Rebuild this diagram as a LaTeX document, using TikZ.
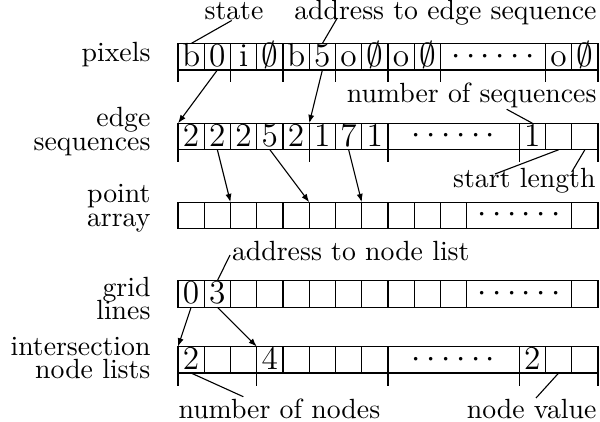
\documentclass[tikz,border=0pt]{standalone}
\usetikzlibrary{arrows.meta}
\newcommand\tightlabelfont{\fontsize{10}{8.6}\selectfont\lineskiplimit=-10pt\relax}
\begin{document}
\begin{tikzpicture}[x={(0.36pt,0pt)}, y={(0pt,-0.36pt)},
  cell/.style={draw, line width=0.4pt, minimum width=9.45pt, minimum height=9.54pt,
    inner sep=0pt, outer sep=0pt, font=\large, text height=8.2pt, text depth=1.1pt},
  dotcell/.style={draw, line width=0.4pt, minimum height=9.54pt,
    inner sep=0pt, outer sep=0pt, font=\large},
  lab/.style={anchor=east, align=right, inner sep=0pt, font={\tightlabelfont}},
  ann/.style={inner sep=0pt, font=\normalsize},
  lead/.style={line width=0.4pt},
  arr/.style={line width=0.4pt, -{Latex[length=3pt,width=2.2pt]}},
  tick/.style={line width=0.4pt}]
\useasboundingbox (0,0) rectangle (600,422);

% ---------- pixels ----------
\foreach \i/\c in {0/b,1/0,2/i,3/$\emptyset$,4/b,5/5,6/o,7/$\emptyset$,8/o,9/$\emptyset$}
  \node[cell] (p\i) at ({178+26.25*(\i+0.5)},56.75) {\c};
\node[dotcell, minimum width=37.8pt] (pd) at ({178+26.25*12},56.75) {$\cdots\cdots$};
\node[cell] (p14) at ({178+26.25*14.5},56.75) {o};
\node[cell] (p15) at ({178+26.25*15.5},56.75) {$\emptyset$};
\foreach \n in {p0,p2,p4,p6,p8,pd,p14}
  \draw[tick] (\n.south west) -- ++(0,12.5);
\draw[tick] (p15.south east) -- ++(0,12.5);

% ---------- edge sequences ----------
\foreach \i/\c in {0/2,1/2,2/2,3/5,4/2,5/1,6/7,7/1}
  \node[cell] (e\i) at ({178+26.25*(\i+0.5)},136.5) {\c};
\node[dotcell, minimum width=47.25pt] (ed) at ({178+26.25*10.5},136.5) {$\cdots\cdots$};
\node[cell] (e13) at ({178+26.25*13.5},136.5) {1};
\node[cell] (e14) at ({178+26.25*14.5},136.5) {};
\node[cell] (e15) at ({178+26.25*15.5},136.5) {};
\foreach \n in {e0,e5,ed,e13}
  \draw[tick] (\n.south west) -- ++(0,12.5);
\draw[tick] (e15.south east) -- ++(0,12.5);

% ---------- point array ----------
\foreach \i in {0,...,10}
  \node[cell] (a\i) at ({178+26.25*(\i+0.5)},215.5) {};
\node[dotcell, minimum width=37.8pt] (ad) at ({178+26.25*13},215.5) {$\cdots\cdots$};
\node[cell] (a15) at ({178+26.25*15.5},215.5) {};

% ---------- grid lines ----------
\node[cell] (g0) at ({178+26.25*0.5},294) {0};
\node[cell] (g1) at ({178+26.25*1.5},294) {3};
\foreach \i in {2,...,10}
  \node[cell] (g\i) at ({178+26.25*(\i+0.5)},294) {};
\node[dotcell, minimum width=37.8pt] (gd) at ({178+26.25*13},294) {$\cdots\cdots$};
\node[cell] (g15) at ({178+26.25*15.5},294) {};

% ---------- intersection node lists ----------
\foreach \i/\c in {0/2,1/,2/,3/4,4/,5/,6/,7/}
  \node[cell] (n\i) at ({178+26.25*(\i+0.5)},359.8) {\c};
\node[dotcell, minimum width=47.25pt] (nd) at ({178+26.25*10.5},359.8) {$\cdots\cdots$};
\node[cell] (n13) at ({178+26.25*13.5},359.8) {2};
\node[cell] (n14) at ({178+26.25*14.5},359.8) {};
\node[cell] (n15) at ({178+26.25*15.5},359.8) {};
\foreach \n in {n0,n3,nd,n13}
  \draw[tick] (\n.south west) -- ++(0,12.5);
\draw[tick] (n15.south east) -- ++(0,12.5);

% ---------- row labels ----------
\node[lab] (lp) at (151,54.8) {pixels};
\node[lab] (le) at (151,131.5) {edge\\sequences};
\node[lab] (la) at (151,208) {point\\array};
\node[lab] (lg) at (151,298.5) {grid\\lines};
\node[lab] (ln) at (151,358) {intersection\\node lists};

% ---------- annotations ----------
\node[ann, anchor=base west] (tstate) at (204,20) {state};
\node[ann, anchor=base east] (taddr) at (597,20) {address to edge sequence};
\node[ann, anchor=base east] (tnseq) at (597,103) {number of sequences};
\node[ann, anchor=base east] (tsl) at (596,188) {start length};
\node[ann, anchor=base west] (tanl) at (231.5,261) {address to node list};
\node[ann, anchor=base west] (tnn) at (178,418) {number of nodes};
\node[ann, anchor=base east] (tnv) at (597,418) {node value};

\coordinate (cstate) at (231.7,20.5);
\coordinate (caddr) at (336.7,19);
\coordinate (cnseq) at (506.7,109.3);
\coordinate (cstart) at (495,174);
\coordinate (clength) at (571.7,172);
\coordinate (canl) at (230,255);
\coordinate (cnn) at (243.3,396.7);
\coordinate (cnv) at (536,398);

\draw[lead] (p0.north) -- (cstate);
\draw[lead] (p5.north) -- (caddr);
\draw[lead] (e13.north) -- (cnseq);
\draw[lead] (e14.south) -- (cstart);
\draw[lead] (e15.south) -- (clength);
\draw[lead] (g1.north) -- (canl);
\draw[lead] (n0.south) -- (cnn);
\draw[lead] (n14.south) -- (cnv);

% ---------- arrows ----------
\draw[arr] (p1.south) -- (e0.north west);
\draw[arr] (p5.south) -- (e5.north west);
\draw[arr] (e1.south) -- (a2.north west);
\draw[arr] (e3.south) -- (a5.north west);
\draw[arr] (e6.south) -- (a7.north west);
\draw[arr] (g0.south) -- (n0.north west);
\draw[arr] (g1.south) -- (n3.north west);
\end{tikzpicture}
\end{document}
